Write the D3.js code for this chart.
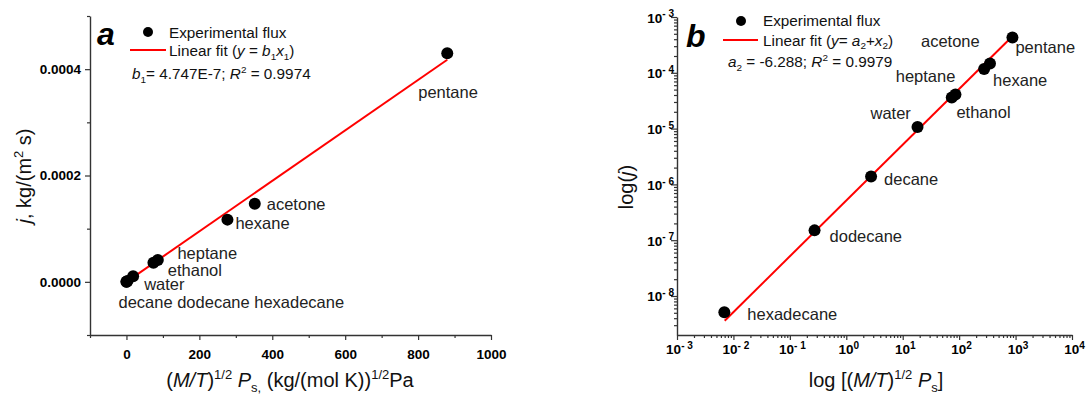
<!DOCTYPE html>
<html>
<head>
<meta charset="utf-8">
<script src="https://cdn.jsdelivr.net/npm/d3@7"></script>
<style>
  html, body { margin: 0; padding: 0; background: #fff; }
  svg { display: block; font-family: "Liberation Sans", Arial, sans-serif; }
</style>
</head>
<body>
<svg id="chart" width="1088" height="394"></svg>
<script>
// data
const solvents = ['hexadecane', 'dodecane', 'decane', 'water', 'heptane', 'ethanol', 'hexane', 'acetone', 'pentane'];
const fluxX = [0.0069, 0.274, 2.75, 18.3, 74, 86, 277, 352, 880];
const fluxJ = [5.1e-9, 1.5e-7, 1.38e-6, 1.07e-5, 3.6e-5, 4.1e-5, 1.17e-4, 1.47e-4, 4.3e-4];

const b1 = 4.747e-7;
const a2 = -6.288;
const fitRangeA = [0, 880];
const fitRangeB = [0.007, 880];

const ticksA_x = [0, 200, 400, 600, 800, 1000];
const minorA_x = [-100, 100, 300, 500, 700, 900];
const ticksA_y = [0, 0.0002, 0.0004];
const minorA_y = [-0.0001, 0.0001, 0.0003, 0.0005];
const decadesB_x = [-3, -2, -1, 0, 1, 2, 3, 4];
const decadesB_y = [-8, -7, -6, -5, -4, -3];

// label offsets (px from the point), layout only
const labelsA = [
  { i: 8, dx: -29, dy: 45 },
  { i: 7, dx: 12, dy: 6 },
  { i: 6, dx: 8, dy: 9 },
  { i: 4, dx: 24, dy: -4 },
  { i: 5, dx: 10, dy: 16 },
  { i: 3, dx: 11, dy: 14 },
  { i: 2, dx: -9, dy: 27, text: 'decane dodecane hexadecane' }
];
const labelsB = [
  { i: 0, dx: 23, dy: 8 },
  { i: 1, dx: 15, dy: 12 },
  { i: 2, dx: 13, dy: 8 },
  { i: 3, dx: -47, dy: -8 },
  { i: 4, dx: -56, dy: -16 },
  { i: 5, dx: 1, dy: 24 },
  { i: 6, dx: 9, dy: 17 },
  { i: 7, dx: -69, dy: -16 },
  { i: 8, dx: 3, dy: 16 }
];

const svg = d3.select('#chart');
const axisColor = '#333';
const fitColor = '#ff0000';
const fontFam = '"Liberation Sans", Arial, sans-serif';

// rich text: parts = [[text, 'n'|'i'|'sup'|'sub'], ...]
function rich(sel, parts, size, ratio = 0.65) {
  let shift = 0;
  parts.forEach(([t, kind]) => {
    const ts = sel.append('tspan').text(t);
    let target = 0;
    if (kind === 'i') ts.attr('font-style', 'italic');
    if (kind === 'sup' || kind === 'sub') {
      ts.attr('font-size', size * ratio);
      target = kind === 'sup' ? -size * 0.38 : size * 0.25;
    }
    ts.attr('dy', target - shift);
    shift = target;
  });
  return sel;
}

function styleAxis(g) {
  g.select('.domain').attr('stroke', axisColor).attr('stroke-width', 1.4);
  g.selectAll('.tick line').attr('stroke', axisColor).attr('stroke-width', 1.2);
}
function boldTicks(g) {
  g.attr('font-family', fontFam).attr('font-size', 13.5).attr('font-weight', 'bold');
  g.selectAll('.tick text').attr('fill', '#000');
}

/* ---------- panel a ---------- */
const xA = d3.scaleLinear().domain([-100, 1000]).range([90, 491]);
const yA = d3.scaleLinear().domain([-0.0001, 0.0005]).range([335, 16]);
const gA = svg.append('g');

gA.append('g').attr('transform', 'translate(0,335)')
  .call(d3.axisBottom(xA).tickValues(minorA_x).tickSize(3).tickSizeOuter(0).tickFormat(''))
  .call(styleAxis);
gA.append('g').attr('transform', 'translate(0,335)')
  .call(d3.axisBottom(xA).tickValues(ticksA_x).tickSize(5).tickSizeOuter(0).tickPadding(9).tickFormat(d3.format('d')))
  .call(styleAxis)
  .call(g => g.select('.domain').remove())
  .call(boldTicks);

gA.append('g').attr('transform', 'translate(90,0)')
  .call(d3.axisLeft(yA).tickValues(minorA_y).tickSize(3).tickSizeOuter(0).tickFormat(''))
  .call(styleAxis);
gA.append('g').attr('transform', 'translate(90,0)')
  .call(d3.axisLeft(yA).tickValues(ticksA_y).tickSize(5).tickSizeOuter(0).tickPadding(4).tickFormat(d3.format('.4f')))
  .call(styleAxis)
  .call(g => g.select('.domain').remove())
  .call(boldTicks);

// fit line
gA.append('path')
  .datum(fitRangeA)
  .attr('d', d3.line().x(d => xA(d)).y(d => yA(b1 * d)))
  .attr('stroke', fitColor).attr('stroke-width', 2).attr('fill', 'none');

gA.selectAll('circle.pt').data(fluxX).join('circle')
  .attr('class', 'pt')
  .attr('cx', d => xA(d)).attr('cy', (d, i) => yA(fluxJ[i])).attr('r', 6).attr('fill', '#000');

gA.selectAll('text.lbl').data(labelsA).join('text')
  .attr('class', 'lbl')
  .attr('x', d => xA(fluxX[d.i]) + d.dx)
  .attr('y', d => yA(fluxJ[d.i]) + d.dy)
  .attr('font-size', 16.5).attr('fill', '#222')
  .text(d => d.text || solvents[d.i]);

gA.append('text').attr('x', 97).attr('y', 45)
  .attr('font-size', 32).attr('font-weight', 'bold').attr('font-style', 'italic').text('a');

// legend a
gA.append('circle').attr('cx', 148).attr('cy', 32).attr('r', 5).attr('fill', '#000');
gA.append('text').attr('x', 169).attr('y', 37.5).attr('font-size', 15.3).attr('fill', '#111').text('Experimental flux');
gA.append('line').attr('x1', 130).attr('x2', 166).attr('y1', 50).attr('y2', 50)
  .attr('stroke', fitColor).attr('stroke-width', 2);
rich(gA.append('text').attr('x', 169).attr('y', 56).attr('font-size', 15.3).attr('fill', '#111'),
  [['Linear fit (', 'n'], ['y', 'i'], [' = ', 'n'], ['b', 'i'], ['1', 'sub'], ['x', 'i'], ['1', 'sub'], [')', 'n']], 15.3);
rich(gA.append('text').attr('x', 132).attr('y', 79).attr('font-size', 15.3).attr('fill', '#111'),
  [['b', 'i'], ['1', 'sub'], ['= 4.747E-7; ', 'n'], ['R', 'i'], ['2', 'sup'], [' = 0.9974', 'n']], 15.3);

// axis titles a
rich(gA.append('text').attr('x', 290).attr('y', 387).attr('text-anchor', 'middle').attr('font-size', 20).attr('fill', '#111'),
  [['(', 'n'], ['M/T', 'i'], [')', 'n'], ['1/2', 'sup'], [' ', 'n'], ['P', 'i'], ['s,', 'sub'], [' (kg/(mol K))', 'n'], ['1/2', 'sup'], ['Pa', 'n']], 20);
rich(gA.append('text').attr('transform', 'translate(31,176) rotate(-90)').attr('text-anchor', 'middle').attr('font-size', 20).attr('fill', '#111'),
  [['j', 'i'], [', kg/(m', 'n'], ['2', 'sup'], [' s)', 'n']], 20);

/* ---------- panel b ---------- */
const xB = d3.scaleLog().domain([1e-3, 1e4]).range([677, 1072]);
const yB = d3.scaleLog().domain([2e-9, 1e-3]).range([335, 17]);
const gB = svg.append('g');

const minorsFor = (decs, lo, hi) => {
  const out = [];
  decs.forEach(e => d3.range(2, 10).forEach(m => {
    const v = m * Math.pow(10, e);
    if (v > lo && v < hi) out.push(v);
  }));
  return out;
};
const majorB_x = decadesB_x.map(e => Math.pow(10, e));
const majorB_y = decadesB_y.map(e => Math.pow(10, e));
const expParts = d => [['10', 'n'], [String(Math.round(Math.log10(d))).replace('-', '- '), 'sup']];

gB.append('g').attr('transform', 'translate(0,335)')
  .call(d3.axisBottom(xB).tickValues(minorsFor(decadesB_x, 1e-3, 1e4)).tickSize(3).tickSizeOuter(0).tickFormat(''))
  .call(styleAxis);
const axBx = gB.append('g').attr('transform', 'translate(0,335)')
  .call(d3.axisBottom(xB).tickValues(majorB_x).tickSize(5).tickSizeOuter(0).tickFormat(''))
  .call(styleAxis)
  .call(g => g.select('.domain').remove())
  .call(boldTicks);
axBx.selectAll('.tick').append('text')
  .attr('y', 354 - 335).attr('x', 2).attr('text-anchor', 'middle').attr('fill', '#000')
  .each(function (d) { rich(d3.select(this), expParts(d), 14, 0.72); });

gB.append('g').attr('transform', 'translate(677,0)')
  .call(d3.axisLeft(yB).tickValues(minorsFor([-9].concat(decadesB_y), 2e-9, 1e-3)).tickSize(3).tickSizeOuter(0).tickFormat(''))
  .call(styleAxis);
const axBy = gB.append('g').attr('transform', 'translate(677,0)')
  .call(d3.axisLeft(yB).tickValues(majorB_y).tickSize(6).tickSizeOuter(0).tickFormat(''))
  .call(styleAxis)
  .call(g => g.select('.domain').remove())
  .call(boldTicks);
axBy.selectAll('.tick').append('text')
  .attr('x', -3).attr('y', 5).attr('text-anchor', 'end').attr('fill', '#000')
  .each(function (d) { rich(d3.select(this), expParts(d), 14, 0.72); });

gB.append('path')
  .datum(fitRangeB)
  .attr('d', d3.line().x(d => xB(d)).y(d => yB(Math.pow(10, a2) * d)))
  .attr('stroke', fitColor).attr('stroke-width', 2).attr('fill', 'none');

gB.selectAll('circle.pt').data(fluxX).join('circle')
  .attr('class', 'pt')
  .attr('cx', d => xB(d)).attr('cy', (d, i) => yB(fluxJ[i])).attr('r', 6).attr('fill', '#000');

gB.selectAll('text.lbl').data(labelsB).join('text')
  .attr('class', 'lbl')
  .attr('x', d => xB(fluxX[d.i]) + d.dx)
  .attr('y', d => yB(fluxJ[d.i]) + d.dy)
  .attr('font-size', 16.5).attr('fill', '#222')
  .text(d => solvents[d.i]);

gB.append('text').attr('x', 686).attr('y', 47)
  .attr('font-size', 32).attr('font-weight', 'bold').attr('font-style', 'italic').text('b');

// legend b
gB.append('circle').attr('cx', 741).attr('cy', 21).attr('r', 5).attr('fill', '#000');
gB.append('text').attr('x', 763).attr('y', 26).attr('font-size', 15.3).attr('fill', '#111').text('Experimental flux');
gB.append('line').attr('x1', 723).attr('x2', 758).attr('y1', 40).attr('y2', 40)
  .attr('stroke', fitColor).attr('stroke-width', 2);
rich(gB.append('text').attr('x', 763).attr('y', 45.5).attr('font-size', 15.3).attr('fill', '#111'),
  [['Linear fit (', 'n'], ['y', 'i'], ['= ', 'n'], ['a', 'i'], ['2', 'sub'], ['+', 'n'], ['x', 'i'], ['2', 'sub'], [')', 'n']], 15.3);
rich(gB.append('text').attr('x', 728).attr('y', 67).attr('font-size', 15.3).attr('fill', '#111'),
  [['a', 'i'], ['2', 'sub'], [' = -6.288; ', 'n'], ['R', 'i'], ['2', 'sup'], [' = 0.9979', 'n']], 15.3);

// axis titles b
rich(gB.append('text').attr('x', 876).attr('y', 387).attr('text-anchor', 'middle').attr('font-size', 20).attr('fill', '#111'),
  [['log [(', 'n'], ['M/T', 'i'], [')', 'n'], ['1/2', 'sup'], [' ', 'n'], ['P', 'i'], ['s', 'sub'], [']', 'n']], 20);
rich(gB.append('text').attr('transform', 'translate(633,187) rotate(-90)').attr('text-anchor', 'middle').attr('font-size', 20).attr('fill', '#111'),
  [['log(', 'n'], ['j', 'i'], [')', 'n']], 20);
</script>
</body>
</html>
